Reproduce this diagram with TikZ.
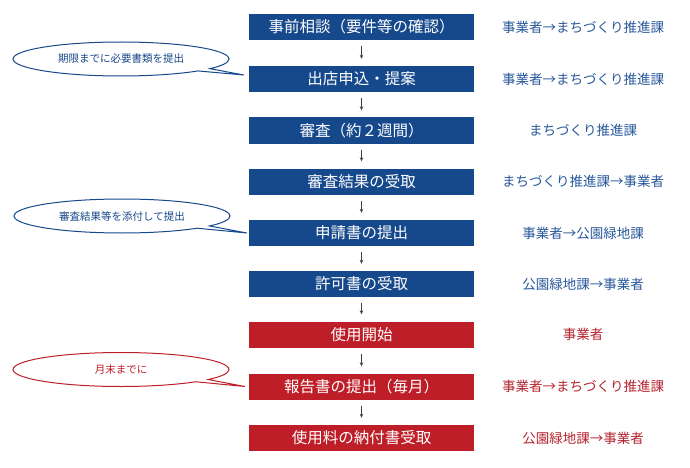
\documentclass[tikz,border=0pt]{standalone}
\usepackage{fontspec}
\setmainfont{Noto Sans CJK JP}
\usetikzlibrary{shapes.callouts,arrows.meta}
\definecolor{stepblue}{RGB}{22,72,140}
\definecolor{stepred}{RGB}{190,30,40}
\definecolor{whoblue}{RGB}{40,88,155}
\definecolor{whored}{RGB}{180,35,45}

\begin{document}
\begin{tikzpicture}[x=1pt,y=-1pt,
  stepbox/.style={rectangle,fill=#1,text=white,minimum width=225pt,minimum height=26pt,inner sep=0pt,font=\fontsize{15.5}{15.5}\selectfont},
  who/.style={text=#1,font=\fontsize{13.5}{13.5}\selectfont},
  note/.style={ellipse callout,callout pointer arc=10,draw=#1,line width=1pt,fill=white,text=#1,minimum width=216pt,minimum height=34pt,inner sep=0pt,font=\fontsize{10.5}{10.5}\selectfont},
  flow/.style={-{Stealth[length=4pt,width=3.5pt]},draw=black!75,line width=0.8pt,shorten <=6pt,shorten >=7pt}]
\useasboundingbox (0,0) rectangle (690,468);

\node[stepbox=stepblue] (b1) at (361.5,27) {事前相談（要件等の確認）};
\node[stepbox=stepblue] (b2) at (361.5,79) {出店申込・提案};
\node[stepbox=stepblue] (b3) at (361.5,130.5) {審査（約２週間）};
\node[stepbox=stepblue] (b4) at (361.5,181.5) {審査結果の受取};
\node[stepbox=stepblue] (b5) at (361.5,233) {申請書の提出};
\node[stepbox=stepblue] (b6) at (361.5,284) {許可書の受取};
\node[stepbox=stepred] (b7) at (361.5,334.5) {使用開始};
\node[stepbox=stepred] (b8) at (361.5,386.5) {報告書の提出（毎月）};
\node[stepbox=stepred] (b9) at (361.5,438) {使用料の納付書受取};

\draw[flow] (b1.south) -- (b2.north);
\draw[flow] (b2.south) -- (b3.north);
\draw[flow] (b3.south) -- (b4.north);
\draw[flow] (b4.south) -- (b5.north);
\draw[flow] (b5.south) -- (b6.north);
\draw[flow] (b6.south) -- (b7.north);
\draw[flow] (b7.south) -- (b8.north);
\draw[flow] (b8.south) -- (b9.north);

\node[who=whoblue] (w1) at (583,27) {事業者→まちづくり推進課};
\node[who=whoblue] (w2) at (583,79) {事業者→まちづくり推進課};
\node[who=whoblue] (w3) at (583,130.5) {まちづくり推進課};
\node[who=whoblue] (w4) at (583,181.5) {まちづくり推進課→事業者};
\node[who=whoblue] (w5) at (583,233) {事業者→公園緑地課};
\node[who=whoblue] (w6) at (583,284) {公園緑地課→事業者};
\node[who=whored] (w7) at (583,334.5) {事業者};
\node[who=whored] (w8) at (583,386.5) {事業者→まちづくり推進課};
\node[who=whored] (w9) at (583,438) {公園緑地課→事業者};

% callouts
\node[note=stepblue,callout absolute pointer={([xshift=-5pt,yshift=4pt]b2.west)}] (n1) at (121,59) {期限までに必要書類を提出};
\node[note=stepblue,callout absolute pointer={([xshift=-2pt]b5.west)}] (n2) at (122,216) {審査結果等を添付して提出};
\node[note=stepred,callout absolute pointer={([xshift=-4pt]b8.west)}] (n3) at (121,369.5) {月末までに};
\end{tikzpicture}
\end{document}
